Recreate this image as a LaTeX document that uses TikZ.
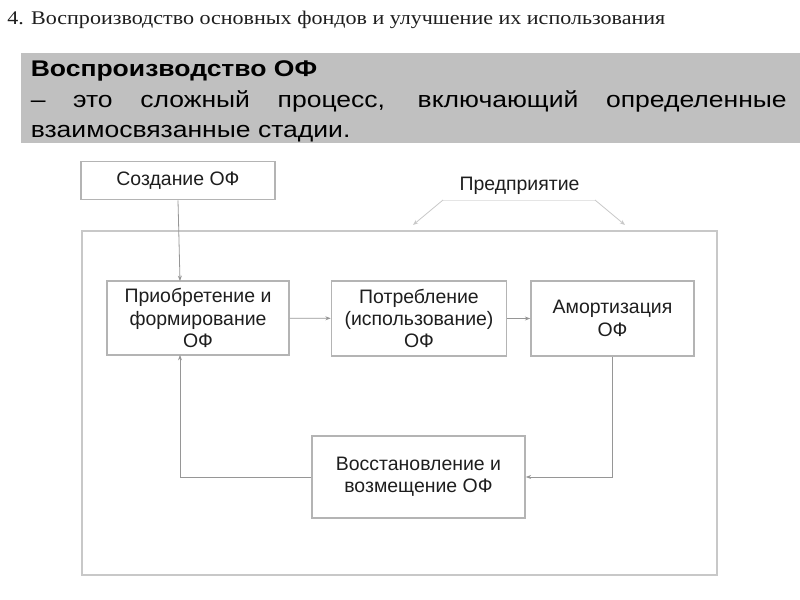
\documentclass[tikz,border=0pt]{standalone}
\usepackage{fontspec}
\setmainfont{Liberation Serif}
\setsansfont{Liberation Sans}
\usepackage{graphicx}
\usetikzlibrary{arrows.meta}
\definecolor{band}{RGB}{192,192,192}
\definecolor{rim}{RGB}{180,180,180}
\definecolor{frm}{RGB}{200,200,200}
\definecolor{wire}{RGB}{150,150,150}
\definecolor{ink}{RGB}{30,30,30}
\begin{document}
\begin{tikzpicture}[x=0.75pt,y=-0.75pt,
    box/.style={draw=rim,line width=1.2pt,inner sep=0pt,align=center,text=ink,
        font=\sffamily\fontsize{14.6}{16.8}\selectfont},
    link/.style={draw=wire,line width=0.6pt,-{Stealth[length=4pt,width=3pt]}},
    band text/.style={anchor=base west,inner sep=0pt,font=\sffamily\fontsize{17}{20}\selectfont}]
    \useasboundingbox (0,0) rectangle (800,600);

    \node[anchor=base west,inner sep=0pt,text=ink,font=\rmfamily\fontsize{14.5}{17}\selectfont] at (7,24) (T)
        {\scalebox{1.14}[1]{4. Воспроизводство основных фондов и улучшение их использования}};

    \fill[band] (20.5,52.5) rectangle (800,142.5);
    \node[band text] at (30.5,76) (H1) {\scalebox{1.17}[1]{\bfseries Воспроизводство ОФ}};
    \node[band text] at (30.5,107) (H2)
        {\scalebox{1.17}[1]{\makebox[484.6pt][s]{– это сложный процесс, включающий определенные}}};
    \node[band text] at (30.5,137) (H3) {\scalebox{1.17}[1]{взаимосвязанные стадии.}};

    \draw[frm,line width=1.5pt] (81.5,230.5) rectangle (717,575);

    \node[box,minimum width=194*0.75pt,minimum height=38*0.75pt] at (178,180.5) (S) {Создание ОФ};
    \node[inner sep=0pt,text=ink,font=\sffamily\fontsize{14.6}{16.8}\selectfont] at (519.5,186) (P) {Предприятие};
    \coordinate (b1) at (443,200);
    \coordinate (b2) at (595,200);
    \coordinate (b3) at (413,225);
    \coordinate (b4) at (625,225);
    \draw[black!10,line width=0.6pt] (b1) -- (b2);
    \draw[link,draw=frm] (b1) -- (b3);
    \draw[link,draw=frm] (b2) -- (b4);

    \node[box,minimum width=182*0.75pt,minimum height=74*0.75pt] at (198,318) (A)
        {Приобретение и\\формирование\\ОФ};
    \node[box,minimum width=175*0.75pt,minimum height=75*0.75pt] at (419,318.5) (B)
        {Потребление\\(использование)\\ОФ};
    \node[box,minimum width=163*0.75pt,minimum height=75*0.75pt] at (612.5,318.5) (C)
        {Амортизация\\ОФ};
    \node[box,minimum width=213*0.75pt,minimum height=82*0.75pt] at (418.5,477) (D)
        {Восстановление и\\возмещение ОФ};

    \coordinate (a0) at (180,281);
    \coordinate (a1) at (180,355);

    \draw[link] (S.south) -- (a0);
    \draw[link] (A) -- (B);
    \draw[link] (B) -- (C);
    \draw[link] (C.south) |- (D.east);
    \draw[link] (D.west) -| (a1);
\end{tikzpicture}
\end{document}
